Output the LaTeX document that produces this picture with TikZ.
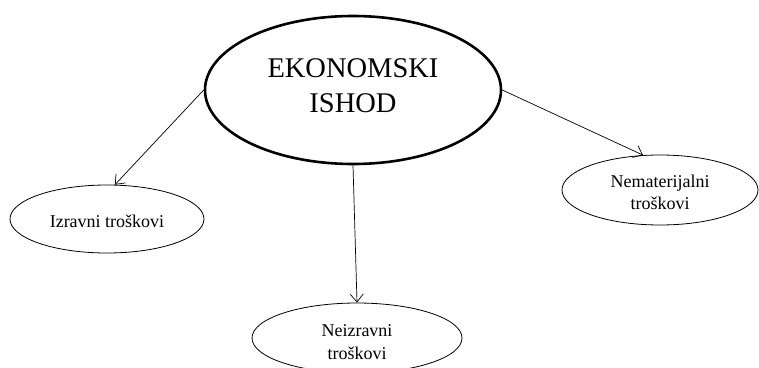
\documentclass[tikz,border=0pt]{standalone}
\usepackage{fontspec}
\setmainfont{Liberation Serif}
\usetikzlibrary{shapes.geometric,arrows.meta}
\begin{document}
\begin{tikzpicture}[x=1pt,y=-1pt,
  mainell/.style={ellipse,draw,line width=2.6pt,inner sep=0pt,minimum width=296pt,minimum height=148pt,align=center,font=\fontsize{28.5}{35}\selectfont},
  subell/.style={ellipse,draw,line width=0.8pt,inner sep=0pt,align=center,font=\fontsize{18}{22}\selectfont},
  conn/.style={draw,line width=0.7pt,-{Straight Barb[length=8pt,width=13pt,line width=0.7pt]}}]
\clip (0,0) rectangle (759,367);
\fill[white] (0,0) rectangle (759,367);
\node[mainell] (main) at (353,90) {EKONOMSKI\\ISHOD\\[-26pt]\rule{0pt}{0pt}};
\node[subell,minimum width=194pt,minimum height=68pt] (left) at (107,219) {\rule{0pt}{0pt}\\[-4pt]Izravni troškovi};
\node[subell,minimum width=196pt,minimum height=70pt] (rt) at (660,190) {\rule{0pt}{0pt}\\[-4pt]Nematerijalni\\troškovi};
\node[subell,minimum width=210pt,minimum height=70pt,font=\fontsize{18}{23}\selectfont] (bot) at (357,338) {\rule{0pt}{0pt}\\[-1.9pt]Neizravni\\troškovi};
\draw[conn] (main.west) -- (left.77);
\draw[conn] (main.east) -- (rt.116);
\draw[conn] (main.south) -- (bot.north);
\end{tikzpicture}
\end{document}
